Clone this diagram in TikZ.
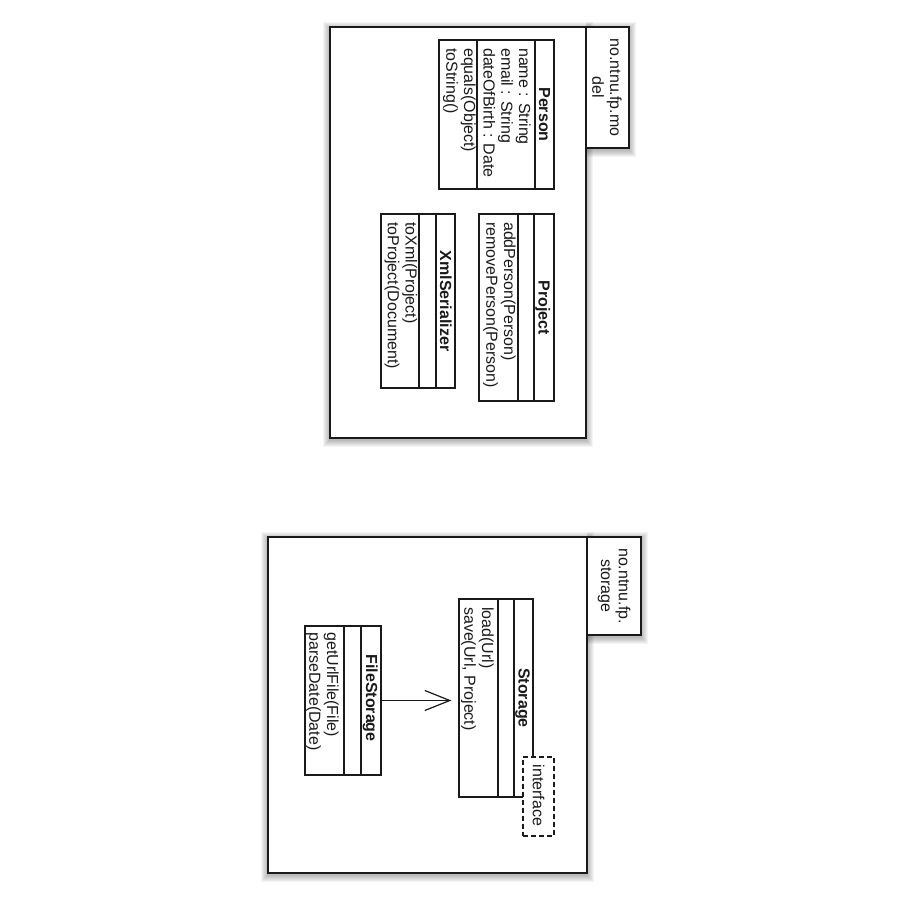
\documentclass[tikz,border=0pt]{standalone}
\usepackage{fontspec}
\setmainfont{Liberation Sans}
\usetikzlibrary{arrows.meta}
\definecolor{ink}{HTML}{1A1A1A}
\tikzset{
  pkgframe/.style={draw=ink, line width=1.6pt, fill=white, inner sep=0pt},
  classbox/.style={draw=ink, line width=1.2pt, fill=white, inner sep=0pt},
  divider/.style={draw=ink, line width=1.2pt},
  hdrtext/.style={rotate=-90, anchor=base, inner sep=0pt, text=ink,
    font=\fontsize{16pt}{17.75pt}\selectfont\bfseries},
  bodytext/.style={rotate=-90, anchor=north west, align=left, inner sep=0pt, text=ink,
    font=\fontsize{16pt}{17.75pt}\selectfont},
  tabtext/.style={rotate=-90, align=center, inner sep=0pt, text=ink,
    font=\fontsize{16pt}{17.75pt}\selectfont},
  stereobox/.style={draw=ink, line width=1.2pt, dash pattern=on 5pt off 3pt,
    fill=white, inner sep=0pt},
  shade/.style={fill=black, opacity=0.045},
  conn/.style={draw=ink, line width=1.2pt, -{Straight Barb[length=25pt,width=20pt]}, shorten >=7pt}
}
\begin{document}
\begin{tikzpicture}[x=1pt,y=-1pt]
\useasboundingbox (0,0) rectangle (900,900);

% soft shadows
\foreach \i in {1,...,7}{
  \fill[shade] (330-\i,27-\i+2) rectangle (586+\i,438+\i+2);
  \fill[shade] (586,27-\i+2) rectangle (629+\i,148+\i+2);
  \fill[shade] (268-\i,537-\i+2) rectangle (587+\i,873+\i+2);
  \fill[shade] (587,537-\i+2) rectangle (641+\i,635+\i+2);
}

% package no.ntnu.fp.model
\node[pkgframe, minimum width=256pt, minimum height=411pt] (model) at (458,232.5) {};
\node[pkgframe, minimum width=43pt, minimum height=121pt] (modeltab) at (607.5,87.5) {};
\node[tabtext] (modeltabtext) at (607,87.5) {no.ntnu.fp.mo\\del};

% Person
\node[classbox, minimum width=115pt, minimum height=149pt] (person) at (496.5,114.5) {};
\draw[divider] (535,40) -- (535,189);
\draw[divider] (477,40) -- (477,189);
\node[hdrtext] (personhdr) at (539,114.5) {Person};
\node[bodytext] (personattr) at (531,48) {name : String\\email : String\\dateOfBirth : Date};
\node[bodytext] (personops) at (476,48) {equals(Object)\\toString()};

% Project
\node[classbox, minimum width=75pt, minimum height=187pt] (project) at (516.5,307.5) {};
\draw[divider] (534,214) -- (534,401);
\draw[divider] (518,214) -- (518,401);
\node[hdrtext] (projecthdr) at (538.5,307.5) {Project};
\node[bodytext] (projectops) at (516,222) {addPerson(Person)\\removePerson(Person)};

% XmlSerializer
\node[classbox, minimum width=74pt, minimum height=174pt] (xml) at (418,301) {};
\draw[divider] (436,214) -- (436,388);
\draw[divider] (419,214) -- (419,388);
\node[hdrtext] (xmlhdr) at (440,301) {XmlSerializer};
\node[bodytext] (xmlops) at (417.5,222) {toXml(Project)\\toProject(Document)};

% package no.ntnu.fp.storage
\node[pkgframe, minimum width=319pt, minimum height=336pt] (storagepkg) at (427.5,705) {};
\node[pkgframe, minimum width=54pt, minimum height=98pt] (storagetab) at (614,586) {};
\node[tabtext] (storagetabtext) at (614,586) {no.ntnu.fp.\\storage};

% Storage
\node[classbox, minimum width=74pt, minimum height=198pt] (storage) at (496,698) {};
\draw[divider] (514,599) -- (514,797);
\draw[divider] (498,599) -- (498,797);
\node[hdrtext] (storagehdr) at (518.5,698) {Storage};
\node[bodytext] (storageops) at (494,607) {load(Url)\\save(Url, Project)};
\node[stereobox, minimum width=31pt, minimum height=79pt] (iface) at (538.5,796.5) {};
\node[tabtext] (ifacetext) at (538.5,795.5) {interface};

% FileStorage
\node[classbox, minimum width=76pt, minimum height=149pt] (filestorage) at (343,700.5) {};
\draw[divider] (361,626) -- (361,775);
\draw[divider] (344,626) -- (344,775);
\node[hdrtext] (filestoragehdr) at (366,698) {FileStorage};
\node[bodytext] (filestorageops) at (339,632) {getUrlFile(File)\\parseDate(Date)};

% dependency arrow
\draw[conn] (filestorage.east) -- (filestorage.east -| storage.west);
\end{tikzpicture}
\end{document}
